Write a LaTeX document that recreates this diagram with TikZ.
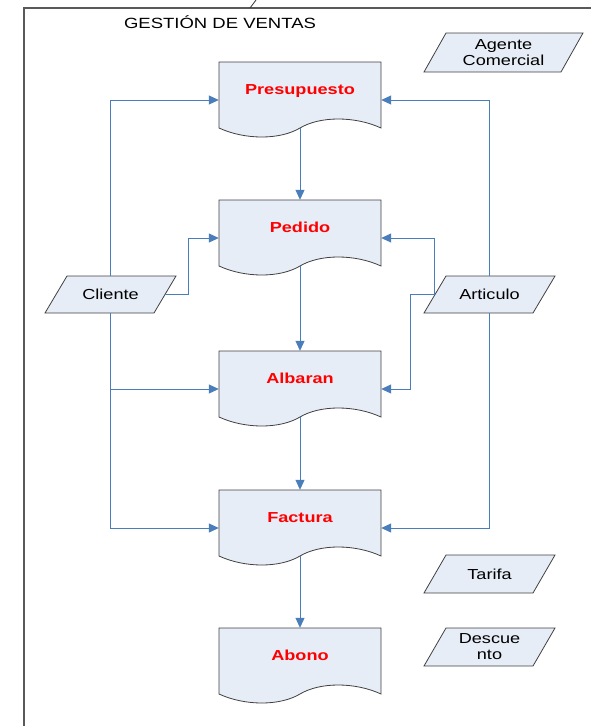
\documentclass[tikz,border=0pt]{standalone}
\usepackage{fontspec}
\setmainfont[FakeStretch=1.25]{Liberation Sans}
\usetikzlibrary{arrows.meta}
\definecolor{flowblue}{RGB}{74,126,187}
\definecolor{docfill}{RGB}{231,237,247}
\definecolor{edgegray}{RGB}{64,64,64}
\begin{document}
\begin{tikzpicture}[x=1pt,y=-1pt,
        docline/.style={draw=edgegray,fill=docfill,line width=0.8pt},
        docbox/.style={minimum width=162pt,minimum height=76pt,inner sep=0pt},
        doctext/.style={text=red,text height=11pt,text depth=3pt,font=\fontsize{14.5}{17}\selectfont\bfseries},
        datatext/.style={inner sep=0pt,align=center,font=\fontsize{14.5}{16}\selectfont},
        flow/.style={draw=flowblue,line width=1pt,-{Triangle[length=10pt,width=9pt]}}]
        \useasboundingbox (0,0) rectangle (591,726);

        \draw[line width=1.2pt,draw=black!65] (24,726) -- (24,8) -- (591,8);
        \draw[line width=0.8pt,draw=black!80] (250,8) -- (256,0);
        \node[anchor=base,font=\fontsize{14.8}{17}\selectfont] (title) at (220,28.3) {GESTIÓN DE VENTAS};

        \foreach \name/\txt/\y in {pres/Presupuesto/62, ped/Pedido/200, alb/Albaran/351, fac/Factura/490, abo/Abono/628} {
            \draw[docline] (219,\y) -- (381,\y) -- (381,\y+66)
                .. controls (355,\y+54) and (320,\y+54) .. (300,\y+66)
                .. controls (280,\y+78) and (245,\y+78) .. (219,\y+66) -- cycle;
            \node[docbox] (\name) at (300,\y+38) {};
            \node[doctext] (\name-t) at (300,\y+28.3) {\txt};
        }

        \foreach \name/\txt/\cx/\cy/\hw/\hh in {cli/Cliente/110.5/294.5/54.5/18.5, art/Articulo/489.5/294.5/54.5/18.5,
                agc/{Agente\\Comercial}/503.5/52.5/68.5/19.5, tar/Tarifa/489.5/574/54.5/19, dto/{Descue\\nto}/489.5/647/54.5/19} {
            \draw[docline] (\cx-\hw-11,\cy+\hh) -- (\cx-\hw+11,\cy-\hh) -- (\cx+\hw+11,\cy-\hh) -- (\cx+\hw-11,\cy+\hh) -- cycle;
            \node[datatext,minimum width={2pt*\hw},minimum height={2pt*\hh}] (\name) at (\cx,\cy) {\txt};
        }

        \draw[flow,shorten <=-10pt] (pres.south) -- (ped.north);
        \draw[flow,shorten <=-10pt] (ped.south) -- (alb.north);
        \draw[flow,shorten <=-10pt] (alb.south) -- (fac.north);
        \draw[flow,shorten <=-10pt] (fac.south) -- (abo.north);

        \draw[flow] (cli.north) |- (pres.west);
        \draw[flow] (cli.east) -- ++(23,0) |- (ped.west);
        \draw[flow] (cli.south) |- (alb.west);
        \draw[flow] (cli.south) |- (fac.west);

        \draw[flow] (art.north) |- (pres.east);
        \draw[flow] (art.west) |- (ped.east);
        \draw[flow] (art.west) -- ++(-24,0) |- (alb.east);
        \draw[flow] (art.south) |- (fac.east);

    \end{tikzpicture}
\end{document}
